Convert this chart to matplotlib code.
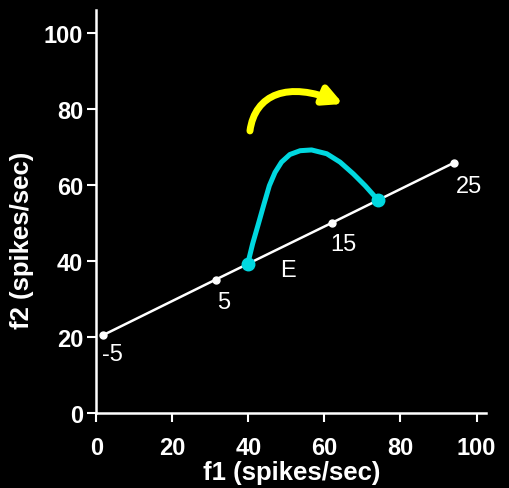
import matplotlib
matplotlib.use("Agg")
import matplotlib.pyplot as plt
from matplotlib.patches import FancyArrowPatch
from matplotlib.path import Path

# white line: points labelled by value
line_f1 = [1.8, 31.4, 61.9, 94.0]
line_f2 = [20.5, 35.1, 50.0, 65.8]
line_labels = ["-5", "5", "15", "25"]
label_f1 = [4.3, 33.5, 65.0, 98.0]
label_f2 = [15.4, 29.2, 44.5, 59.7]

# cyan trajectory from E to end point
traj_f1 = [39.8, 41.1, 42.6, 44.1, 45.5, 47.0, 48.7, 50.9, 53.6, 56.6,
           60.6, 64.1, 67.6, 70.7, 74.0]
traj_f2 = [39.2, 44.5, 49.7, 55.0, 59.8, 63.3, 66.0, 68.0, 69.0, 69.2,
           68.2, 66.0, 62.9, 59.8, 56.1]

# yellow arrow: tail, two bezier control points, tip
arrow_f1 = [40.4, 41.7, 50.4, 64.9]
arrow_f2 = [74.2, 83.9, 87.4, 81.3]

plt.rcParams["font.family"] = ["Liberation Sans", "DejaVu Sans"]

fig = plt.figure(figsize=(5.1, 4.89), dpi=100, facecolor="black")
ax = fig.add_axes([0.189, 0.1534, 0.764, 0.824], facecolor="black")

ax.plot(line_f1, line_f2, color="white", lw=1.8, zorder=2)
ax.plot(line_f1, line_f2, "o", color="white", ms=5, zorder=3)
for x, y, s in zip(label_f1, label_f2, line_labels):
    ax.text(x, y, s, color="white", fontsize=17, ha="center", va="center")
ax.text(50.5, 37.7, "E", color="white", fontsize=17, ha="center", va="center")

ax.plot(traj_f1, traj_f2, color="#00d8e0", lw=3.6, solid_capstyle="round",
        solid_joinstyle="round", zorder=4)
ax.plot([traj_f1[0], traj_f1[-1]], [traj_f2[0], traj_f2[-1]], "o",
        color="#00d8e0", ms=9, zorder=5)

arrow_path = Path(list(zip(arrow_f1, arrow_f2)),
                  [Path.MOVETO, Path.CURVE4, Path.CURVE4, Path.CURVE4])
arr = FancyArrowPatch(path=arrow_path,
                      arrowstyle="-|>,head_length=0.55,head_width=0.28",
                      mutation_scale=20, color="#ffff00", lw=5,
                      transform=ax.transData, zorder=6)
ax.add_patch(arr)

ax.set_xlim(0, 102.5)
ax.set_ylim(0, 106)
ax.set_xticks([0, 20, 40, 60, 80, 100])
ax.set_yticks([0, 20, 40, 60, 80, 100])
for side in ["top", "right"]:
    ax.spines[side].set_visible(False)
for side in ["left", "bottom"]:
    ax.spines[side].set_color("white")
    ax.spines[side].set_linewidth(1.8)
ax.tick_params(colors="white", length=6.5, width=1.5, labelsize=17)
ax.tick_params(axis="x", pad=10)
ax.tick_params(axis="y", pad=3)
for lbl in ax.get_xticklabels() + ax.get_yticklabels():
    lbl.set_fontweight("bold")

ax.set_xlabel("f1 (spikes/sec)", color="white", fontsize=18.5, fontweight="bold", labelpad=1)
ax.set_ylabel("f2 (spikes/sec)", color="white", fontsize=18.5, fontweight="bold")
ax.yaxis.set_label_coords(-0.16, 0.432)

fig.savefig("out.png", dpi=100, facecolor="black")
